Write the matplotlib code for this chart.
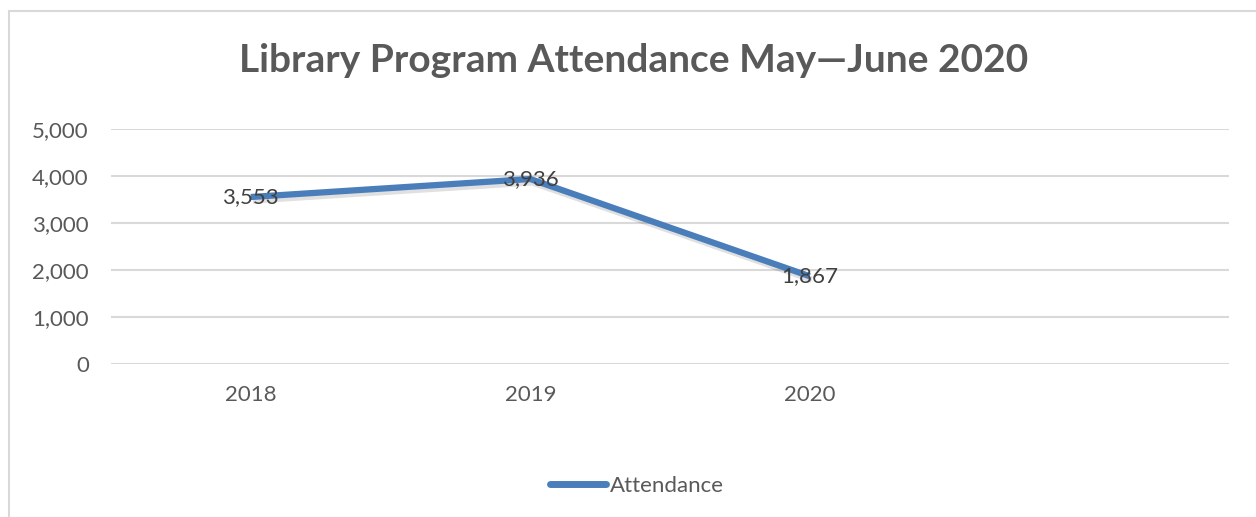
import matplotlib
matplotlib.use("Agg")
import matplotlib.pyplot as plt
import matplotlib.patheffects as pe
from matplotlib.patches import Rectangle
from matplotlib.lines import Line2D

categories = ["2018", "2019", "2020", ""]
attendance = [3553, 3936, 1867]
data_labels = ["3,553", "3,936", "1,867"]
yticks = [0, 1000, 2000, 3000, 4000, 5000]
ytick_labels = ["0", "1,000", "2,000", "3,000", "4,000", "5,000"]
title = "Library Program Attendance May\u2014June 2020"
series_name = "Attendance"

W, H = 1256, 517
fig = plt.figure(figsize=(W / 100, H / 100), dpi=100)
FONT = "Lato"
TXT = "#595959"
FS = 16

# chart border
fig.patches.append(Rectangle((8.5 / W, -0.1), 1.2, 1.1 - 10.5 / H, transform=fig.transFigure,
                             fill=False, edgecolor="#d9d9d9", linewidth=1.5))

ax = fig.add_axes([111 / W, (H - 364) / H, (1229 - 111) / W, (364 - 129) / H])
ax.set_xlim(-0.5, len(categories) - 0.5)
ax.set_ylim(0, 5000)
for s in ax.spines.values():
    s.set_visible(False)
ax.set_yticks(yticks)
ax.set_yticklabels(ytick_labels, fontsize=FS, color=TXT, family=FONT)
ax.set_xticks(range(len(categories)))
ax.set_xticklabels(categories, fontsize=FS, color=TXT, family=FONT)
ax.tick_params(axis="both", length=0)
ax.tick_params(axis="y", pad=16)
ax.tick_params(axis="x", pad=15)
ax.grid(axis="y", color="#d9d9d9", linewidth=1.5)
ax.set_axisbelow(True)

x = list(range(len(attendance)))
ax.plot(x, attendance, color="#4A7EBB", linewidth=4.5, solid_joinstyle="miter",
        solid_capstyle="butt", label=series_name,
        path_effects=[pe.SimpleLineShadow(offset=(1.5, -2.5), shadow_color="black", alpha=0.12),
                      pe.Normal()])
for xi, yi, lab in zip(x, attendance, data_labels):
    ax.text(xi, yi, lab, ha="center", va="center", fontsize=FS, color="#404040", family=FONT)

fig.text(634 / W, 1 - 60 / H, title, ha="center", va="center", fontsize=28,
         fontweight="bold", color=TXT, family=FONT)

h = Line2D([0], [0], color="#4A7EBB", linewidth=5, solid_capstyle="round")
leg = fig.legend([h], [series_name], loc="center", bbox_to_anchor=(637 / W, 1 - 486 / H),
                 frameon=False, handlelength=2.5, handletextpad=0.2,
                 prop={"family": FONT, "size": FS})
for t in leg.get_texts():
    t.set_color(TXT)

fig.savefig("out.png", dpi=100)
